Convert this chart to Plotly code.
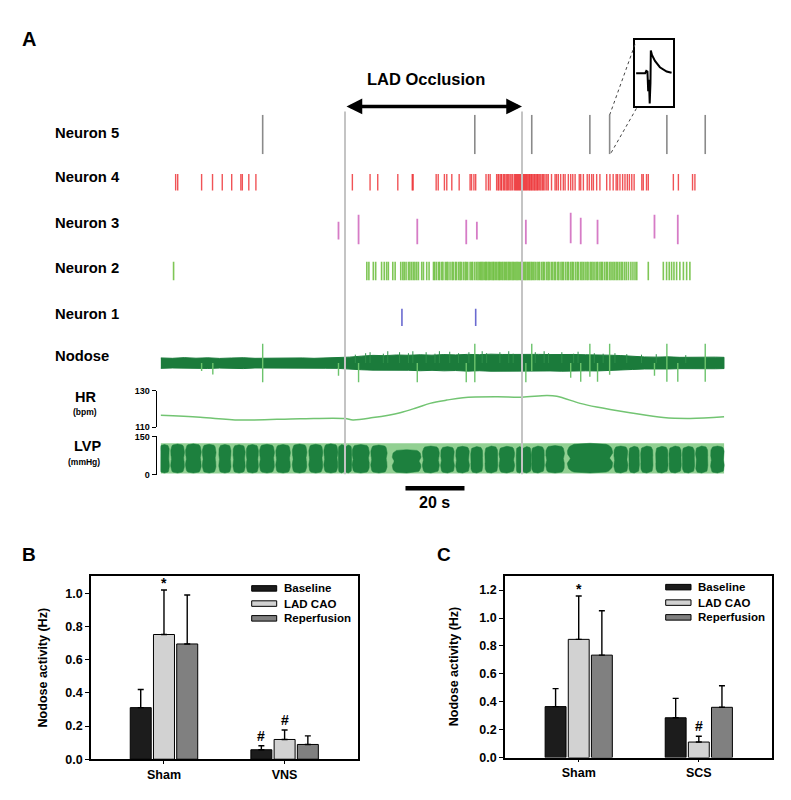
import numpy as np
import plotly.graph_objects as go

W, H = 791, 800
FONT = "Liberation Sans, Arial, sans-serif"

# ---------------- panel A data (time in s) ----------------
occl_on, occl_off = 62.5, 122.5
scale_t0, scale_len = 83.0, 20

n5_t = [34.6, 106.5, 125.8, 145.5, 152.2, 171.6, 184.6]
inset_spike = 152.2

n4_t = [5.1, 5.8, 13.9, 17.6, 20.9, 24.1, 27.2, 27.7, 29.9, 32.3,
        65.0, 71.0, 73.6, 80.4, 85.3, 85.6,
        93.4, 94.1, 96.2, 97.0, 98.7, 101.2, 104.9, 105.4, 106.2, 106.8,
        110.3, 111.1, 111.7, 113.9, 114.4, 114.7, 115.3, 115.6, 116.2, 116.6, 117.1, 117.5,
        117.9, 118.4, 118.8, 119.3, 119.9, 120.3, 120.6, 121.0, 121.3, 121.7, 122.0,
        122.4, 122.6, 123.0, 123.3, 123.7, 124.0, 124.4, 124.8, 125.1, 125.5, 125.8,
        126.2, 126.6, 126.9, 127.3, 127.7, 128.0, 128.5, 128.9, 129.4, 129.8, 130.3,
        130.9, 131.4, 132.5, 133.7, 134.2, 134.8, 135.6, 136.5, 137.1, 138.2, 139.0,
        139.7, 140.5, 141.9, 142.4, 143.3, 144.6, 145.3, 146.1, 146.7, 147.8, 148.9,
        151.2, 152.3, 153.4, 154.4, 154.9, 155.7, 156.6, 157.4, 158.2, 158.9, 159.7,
        160.5, 163.1, 163.6, 164.7, 165.3, 173.8, 175.5, 180.3, 181.1]

n3_t = [60.3, 67.1, 87.0, 103.6, 107.2, 123.8, 139.0, 142.4, 148.1, 167.4, 175.3]
n3_hi = [0.41, 0.82, 0.59, 0.53, 0.41, 0.53, 0.94, 0.65, 0.53, 0.82, 0.82]
n3_lo = [-0.65, -0.94, -0.94, -0.94, -0.65, -0.94, -0.88, -0.94, -0.94, -0.59, -0.94]

n2_t = [4.4,
        69.9, 70.6, 72.1, 72.9, 74.9, 75.8, 76.6, 77.2, 78.7, 79.5, 81.4, 82.1, 82.6,
        83.2, 84.0, 84.5, 85.1, 85.7, 86.2, 86.8, 87.4, 88.5, 89.1, 90.2, 91.0,
        92.5, 92.9, 93.5, 94.2, 94.6, 95.3, 95.7, 96.5, 97.0, 97.4, 98.1, 98.8, 99.2,
        99.9, 100.3, 101.0, 101.5, 101.9, 102.6, 103.2, 103.6, 104.1, 104.9, 105.4,
        105.8, 106.5, 107.1, 107.6, 108.1, 108.5, 108.9, 109.3, 109.8, 110.2, 110.5,
        111.0, 111.4, 111.8, 112.3, 112.7, 113.0, 113.5, 113.9, 114.4, 114.8, 115.1,
        115.6, 116.0, 116.5, 116.9, 117.3, 117.8, 118.2, 118.6, 119.1, 119.5, 119.9,
        120.4, 120.8, 121.2, 121.7, 122.1, 122.5, 123.0, 123.4, 123.8, 124.3, 124.7,
        125.1, 125.6, 126.0, 126.5, 127.0, 127.6, 128.1, 128.5, 129.2, 129.7, 130.1,
        130.8, 131.3, 131.7, 132.4, 132.9, 133.5, 133.9, 134.6, 135.0, 135.7, 136.2,
        136.6, 137.3, 137.9, 138.3, 139.0, 139.5, 139.9, 140.6, 141.2, 141.6, 142.3,
        142.8, 143.3, 143.9, 144.5, 144.9, 145.6, 146.1, 146.6, 147.2, 147.8, 148.2,
        148.9, 149.4, 149.8, 150.5, 151.1, 151.5, 152.2, 152.7, 153.3, 153.8, 154.4,
        154.9, 155.5, 156.1, 156.6, 157.3, 157.9, 158.6, 159.4, 160.1, 160.8, 161.4,
        165.3, 170.4, 171.5, 172.4, 173.2, 174.0, 174.9, 176.0, 177.2, 178.3, 179.4]

n1_t = [81.8, 106.8]

# nodose raw trace: noise envelope + large unit spikes (arbitrary units)
nod_env_t = [0, 4, 8, 12, 16, 20, 24, 28, 32, 36, 40, 44, 48, 52, 56, 60, 64, 68,
             72, 76, 80, 84, 88, 92, 96, 100, 104, 108, 112, 116, 120, 124, 128, 132,
             136, 140, 144, 148, 152, 156, 160, 164, 168, 172, 176, 180, 184, 188, 191]
nod_up = [5.2, 4.8, 5.5, 4.9, 5.3, 4.7, 5.1, 5.4, 4.8, 5.0, 5.3, 4.9, 5.2, 4.8, 5.1,
          5.0, 6.0, 7.0, 7.8, 7.5, 8.2, 7.9, 8.4, 8.0, 8.6, 8.3, 8.8, 8.5, 9.0, 8.7,
          8.9, 9.2, 8.8, 8.6, 9.0, 8.7, 8.4, 8.5, 8.0, 7.6, 6.8, 6.2, 6.0, 6.3, 5.8,
          6.1, 5.9, 6.0, 5.8]
nod_dn = [-5.4, -5.0, -5.6, -5.2, -5.5, -5.1, -5.3, -5.6, -5.0, -5.3, -5.4, -5.1,
          -5.5, -5.2, -5.3, -5.4, -6.0, -6.8, -7.2, -7.0, -7.5, -7.3, -7.8, -7.4,
          -7.9, -7.6, -8.2, -7.8, -8.3, -8.0, -8.4, -8.5, -8.1, -8.0, -8.3, -8.2,
          -7.9, -8.0, -7.6, -7.2, -6.5, -6.0, -5.8, -6.0, -5.7, -5.9, -5.6, -5.8, -5.6]
nod_small_t = [66, 69.5, 71, 75.5, 77, 81, 84, 85.5, 90, 93, 94.5, 98, 101, 104.5, 109,
               110.5, 115, 118, 119.5, 127, 130, 131.5, 136, 140, 141.5, 147, 150, 154,
               158, 163, 168, 178]
nod_small_hi = [8.5, 10, 11, 9.5, 12, 11, 10, 12, 11, 9.5, 12, 11.5, 10, 11, 12, 10,
                11, 12, 9.5, 11, 12, 10, 11, 9.5, 11.5, 10, 9.5, 10, 9, 8.5, 9, 8]
nod_big_t = [13.9, 17.7, 34.6, 60.3, 67.1, 87.0, 103.6, 106.5, 123.8, 125.8, 139.0,
             142.4, 145.5, 148.1, 152.2, 167.4, 171.6, 175.3, 184.6]
nod_big_hi = [0, 0, 19.5, 0, 0, 0, 0, 19.5, 0, 19.5, 0, 0, 19.5, 0, 19.5, 0, 19.5, 0, 19.5]
nod_big_lo = [-8, -11.5, -19.5, -13, -19.5, -19.5, -19.5, -19.5, -19.5, -8, -15, -19,
              -14, -19, -12, -13, -19, -19, -19]

hr_t = [0, 13.4, 26.9, 47.3, 62.5, 65.2, 72.0, 81.2, 86.8, 91.3, 97.0, 102.5, 113.9,
        122.4, 130.9, 134.3, 142.2, 147.8, 159.1, 170.4, 179.5, 191]
hr_v = [116.5, 115.4, 113.9, 114.6, 114.7, 113.9, 115.2, 117.9, 120.6, 123.0, 124.8,
        126.1, 126.6, 126.4, 127.3, 126.9, 123.0, 121.0, 117.9, 115.2, 114.7, 115.6]

# LVP: pressure band and the beat clusters (start, end, peak mmHg)
lvp_band_t = [0, 191]
lvp_band_top = [123, 123]
lvp_band_bot = [4, 4]
lvp_on = [0.0, 3.8, 8.8, 14.5, 20.1, 24.9, 29.4, 33.9, 39.4, 45.0, 50.6, 55.7, 60.6,
          62.8, 65.3, 71.6, 78.9, 89.1, 95.3, 100.4, 105.5, 110.3, 115.1, 120.9, 123.0,
          126.1, 130.9, 138.2, 154.0, 159.1, 163.1, 168.2, 172.7, 177.2, 181.7, 186.8]
lvp_off = [2.6, 7.7, 13.4, 18.4, 23.5, 28.3, 32.8, 38.2, 43.6, 49.2, 54.6, 59.7, 62.2,
           64.4, 70.4, 76.4, 87.9, 94.1, 99.2, 104.3, 108.8, 113.9, 119.6, 122.4, 125.2,
           129.7, 136.5, 152.9, 158.0, 161.9, 166.5, 171.6, 176.1, 180.6, 185.1, 190.7]
lvp_peak = [118, 120, 121, 119, 118, 117, 118, 119, 118, 120, 119, 121, 118, 116, 118,
            116, 98, 112, 110, 111, 110, 112, 111, 110, 110, 112, 114, 123, 112, 111,
            112, 111, 112, 111, 112, 112]
lvp_floor = 6

inset_u = [0.03, 0.27, 0.30, 0.33, 0.35, 0.37, 0.39, 0.41, 0.42, 0.45, 0.53, 0.66, 0.84, 0.97]
inset_v = [0.0, 0.0, 0.07, 0.05, -0.55, -0.2, -0.92, -0.3, 0.69, 0.55, 0.37, 0.18, 0.05, 0.01]

# ---------------- panels B, C ----------------
series = ["Baseline", "LAD CAO", "Reperfusion"]
colors = ["#1c1c1c", "#d2d2d2", "#808080"]
b_groups = ["Sham", "VNS"]
b_mean = [[0.311, 0.057], [0.752, 0.119], [0.695, 0.089]]
b_err = [[0.109, 0.024], [0.268, 0.057], [0.295, 0.052]]
b_sig = [(0, 1, "*"), (1, 0, "#"), (1, 1, "#")]
c_groups = ["Sham", "SCS"]
c_mean = [[0.365, 0.285], [0.847, 0.111], [0.734, 0.360]]
c_err = [[0.129, 0.139], [0.311, 0.042], [0.318, 0.155]]
c_sig = [(0, 1, "*"), (1, 1, "#")]


def px(x):
    return x / W


def py(y):
    return 1 - y / H


T_DOM = [px(160.6), px(724.7)]
T_RANGE = [0, 191.2]


def t2p(t):
    return T_DOM[0] + (t - T_RANGE[0]) / (T_RANGE[1] - T_RANGE[0]) * (T_DOM[1] - T_DOM[0])


def raster(ts, lo, hi):
    n = len(ts)
    lo = lo if isinstance(lo, list) else [lo] * n
    hi = hi if isinstance(hi, list) else [hi] * n
    xs, ys = [], []
    for t, a, b in zip(ts, lo, hi):
        xs += [t, t, None]
        ys += [a, b, None]
    return xs, ys


def blobs(on, off, peak, floor):
    v = np.linspace(0, 1, 31)
    f = (1 - np.abs(2 * v - 1) ** 4) ** 0.25 * (1 - 0.14 * np.exp(-((v - 0.5) / 0.1) ** 2))
    xs, ys = [], []
    for a, b, top in zip(on, off, peak):
        c, hw = (a + b) / 2, (b - a) / 2 + 0.4
        yy = floor + v * (top - floor)
        xs += list(c + hw * f) + list(c - hw * f[::-1]) + [None]
        ys += list(yy) + list(yy[::-1]) + [None]
    return xs, ys


fig = go.Figure()


def spikes(ts, lo, hi, color, width, yax):
    xs, ys = raster(ts, lo, hi)
    fig.add_trace(go.Scatter(x=xs, y=ys, mode="lines", line=dict(color=color, width=width),
                             xaxis="x", yaxis=yax, hoverinfo="skip"))


spikes(n5_t, -1, 1, "#8a8a8a", 1.6, "y")
spikes(n4_t, -0.7, 0.7, "rgba(235,25,30,0.75)", 1.4, "y2")
spikes(n3_t, n3_lo, n3_hi, "#d67cc6", 1.8, "y3")
spikes(n2_t, -0.85, 0.85, "rgba(104,188,56,0.85)", 1.6, "y4")
spikes(n1_t, -1, 1, "#6a6ad0", 1.6, "y5")

# nodose
fig.add_trace(go.Scatter(x=nod_env_t + nod_env_t[::-1], y=nod_up + nod_dn[::-1],
                         fill="toself", fillcolor="#1b7b3b", mode="lines",
                         line=dict(color="#1b7b3b", width=1), xaxis="x", yaxis="y6",
                         hoverinfo="skip"))
spikes(nod_small_t, 0, nod_small_hi, "#2f8f4a", 1.0, "y6")
spikes(nod_big_t, nod_big_lo, nod_big_hi, "#6cc36c", 1.4, "y6")

# HR
fig.add_trace(go.Scatter(x=hr_t, y=hr_v, mode="lines", line=dict(color="#72c472", width=1.5, shape="spline"),
                         xaxis="x", yaxis="y7", hoverinfo="skip"))

# LVP
fig.add_trace(go.Scatter(x=lvp_band_t + lvp_band_t[::-1], y=lvp_band_top + lvp_band_bot[::-1],
                         fill="toself", fillcolor="#92d092", mode="lines", line=dict(width=0),
                         xaxis="x", yaxis="y8", hoverinfo="skip"))
bx, by = blobs(lvp_on, lvp_off, lvp_peak, lvp_floor)
fig.add_trace(go.Scatter(x=bx, y=by, fill="toself", fillcolor="#1d803e", mode="lines",
                         line=dict(color="#1d803e", width=0.5), xaxis="x", yaxis="y8",
                         hoverinfo="skip"))

# inset spike waveform
fig.add_trace(go.Scatter(x=inset_u, y=inset_v, mode="lines", line=dict(color="black", width=2),
                         xaxis="x2", yaxis="y9", hoverinfo="skip"))

# bars
slot = 0.1927
for means, errs, xa, ya in [(b_mean, b_err, "x3", "y10"), (c_mean, c_err, "x4", "y11")]:
    for i, name in enumerate(series):
        fig.add_trace(go.Bar(x=[0, 1], y=means[i], width=0.174, offset=-0.087 + (i - 1) * slot,
                             marker=dict(color=colors[i], line=dict(color="black", width=1)),
                             error_y=dict(type="data", array=errs[i], arrayminus=[0, 0],
                                          symmetric=False, color="black", thickness=1.4, width=3),
                             xaxis=xa, yaxis=ya, name=name))

bold = dict(family=FONT, color="black", weight="bold")
ann = []


def label(x, y, text, size, xanchor="center"):
    ann.append(dict(x=px(x), y=py(y), xref="paper", yref="paper", text=text, showarrow=False,
                    xanchor=xanchor, yanchor="middle", font=dict(bold, size=size)))


label(29, 35, "A", 20)
label(29, 558, "B", 19)
label(444, 558, "C", 19)
for name, y in [("Neuron 5", 130), ("Neuron 4", 175), ("Neuron 3", 221), ("Neuron 2", 267),
                ("Neuron 1", 314), ("Nodose", 356)]:
    label(53, y, name, 14.8, "left")
label(85, 398, "HR", 14.5)
label(85, 413, "(bpm)", 8.5)
label(87, 448, "LVP", 14.5)
label(84, 464, "(mmHg)", 8.5)
label(426, 75, "LAD Occlusion", 16.5)
ann.append(dict(x=scale_t0 + scale_len / 2, y=py(505), xref="x", yref="paper", text="20 s",
                showarrow=False, font=dict(bold, size=16)))
ann.append(dict(x=occl_off, y=py(103), ax=occl_on, ay=0, xref="x", yref="paper",
                axref="x", ayref="pixel", text="", showarrow=True, arrowhead=2, arrowside="end+start",
                arrowsize=0.9, arrowwidth=3.5, arrowcolor="black"))

label(42.7, 672.8, "Nodose activity (Hz)", 12.5)
ann[-1]["textangle"] = -90
label(454.3, 672, "Nodose activity (Hz)", 12.5)
ann[-1]["textangle"] = -90

for sig, means, errs, xa, ya in [(b_sig, b_mean, b_err, "x3", "y10"), (c_sig, c_mean, c_err, "x4", "y11")]:
    for g, i, sym in sig:
        ann.append(dict(x=g + (i - 1) * slot, y=means[i][g] + errs[i][g], xref=xa, yref=ya,
                        text=sym, showarrow=False, yanchor="bottom",
                        yshift=-3 if sym == "*" else 0, font=dict(bold, size=14)))

shapes = []
for t in (occl_on, occl_off):
    shapes.append(dict(type="line", xref="x", yref="paper", x0=t, x1=t, y0=py(108), y1=py(476.5),
                       line=dict(color="#c4c4c4", width=2), layer="above"))
shapes.append(dict(type="line", xref="x", yref="paper", x0=scale_t0, x1=scale_t0 + scale_len,
                   y0=py(490.7), y1=py(490.7), line=dict(color="black", width=4.5)))
sx = t2p(inset_spike)
shapes.append(dict(type="line", xref="paper", yref="paper", x0=sx, y0=py(111.7), x1=px(635), y1=py(40),
                   line=dict(color="#444", width=1, dash="dot")))
shapes.append(dict(type="line", xref="paper", yref="paper", x0=sx + px(1.5), y0=py(150), x1=px(637),
                   y1=py(104), line=dict(color="#444", width=1, dash="dot")))

# manual legends
for x0, x1, tx, ys in [(251.7, 276.7, 281.7, [592.3, 607.7, 622.7]),
                       (665.7, 691.0, 696.0, [591.0, 606.7, 621.7])]:
    for i, name in enumerate(series):
        shapes.append(dict(type="rect", xref="paper", yref="paper", x0=px(x0), x1=px(x1),
                           y0=py(ys[i] + 2.8), y1=py(ys[i] - 2.8), fillcolor=colors[i],
                           line=dict(color="black", width=1)))
        label(tx, ys[i], name, 11.5, "left")


def track(y_top, y_bot, rng=(-1, 1)):
    return dict(domain=[py(y_bot), py(y_top)], range=list(rng), anchor="x", visible=False,
                showgrid=False, zeroline=False)


def bracket(y_top, y_bot, rng, ticks):
    return dict(domain=[py(y_bot), py(y_top)], range=list(rng), anchor="free", position=px(155.7),
                showline=True, linecolor="black", linewidth=1.3, ticks="outside", ticklen=4,
                tickcolor="black", tickwidth=1.3, tickvals=ticks, showgrid=False, zeroline=False,
                tickfont=dict(bold, size=9))


def box_axis(**kw):
    d = dict(showline=True, mirror=True, linecolor="black", linewidth=1.5, showgrid=False,
             zeroline=False, tickfont=dict(bold, size=12.5), ticks="outside", tickwidth=1.3,
             tickcolor="black")
    d.update(kw)
    return d


fig.update_layout(
    width=W, height=H, autosize=False, margin=dict(l=0, r=0, t=0, b=0),
    paper_bgcolor="white", plot_bgcolor="rgba(0,0,0,0)", showlegend=False, barmode="overlay",
    font=dict(family=FONT, color="black"),
    xaxis=dict(domain=T_DOM, range=T_RANGE, visible=False, anchor="y8"),
    yaxis=track(111.5, 151.5),
    yaxis2=track(168, 192),
    yaxis3=track(210, 244),
    yaxis4=track(259, 281),
    yaxis5=track(308, 326),
    yaxis6=track(343, 384, (-20.5, 20.5)),
    yaxis7=bracket(391.5, 428.5, (110, 130), [110, 130]),
    yaxis8=bracket(438, 476.7, (0, 150), [0, 150]),
    xaxis2=dict(domain=[px(635), px(672.7)], range=[0, 1], anchor="y9", showline=True, mirror=True,
                linecolor="black", linewidth=1.5, showticklabels=False, ticks="", showgrid=False,
                zeroline=False),
    yaxis9=dict(domain=[py(102.7), py(35.7)], range=[-1, 1], anchor="x2", showline=True, mirror=True,
                linecolor="black", linewidth=1.5, showticklabels=False, ticks="", showgrid=False,
                zeroline=False),
    xaxis3=box_axis(domain=[px(91), px(357.7)], range=[-0.605, 1.606], anchor="y10",
                    tickvals=[0, 1], ticktext=b_groups, ticklen=3),
    yaxis10=box_axis(domain=[py(765.7), py(580)], range=[0, 1.103], anchor="x3", dtick=0.2,
                     tickformat=".1f", ticklen=4),
    xaxis4=box_axis(domain=[px(505), px(771.7)], range=[-0.614, 1.607], anchor="y11",
                    tickvals=[0, 1], ticktext=c_groups, ticklen=3),
    yaxis11=box_axis(domain=[py(764), py(580)], range=[0, 1.299], anchor="x4", dtick=0.2,
                     tickformat=".1f", ticklen=4),
    annotations=ann, shapes=shapes,
)

# page without margins so the 791x800 figure fills the window exactly
page_css = ("var s=document.createElement('style');"
            "s.textContent='html,body{margin:0;padding:0;overflow:hidden;width:791px;height:800px;"
            "line-height:0;font-size:0}';"
            "document.head.appendChild(s);")
fig.write_html("out.html", config={"displayModeBar": False}, post_script=page_css)
